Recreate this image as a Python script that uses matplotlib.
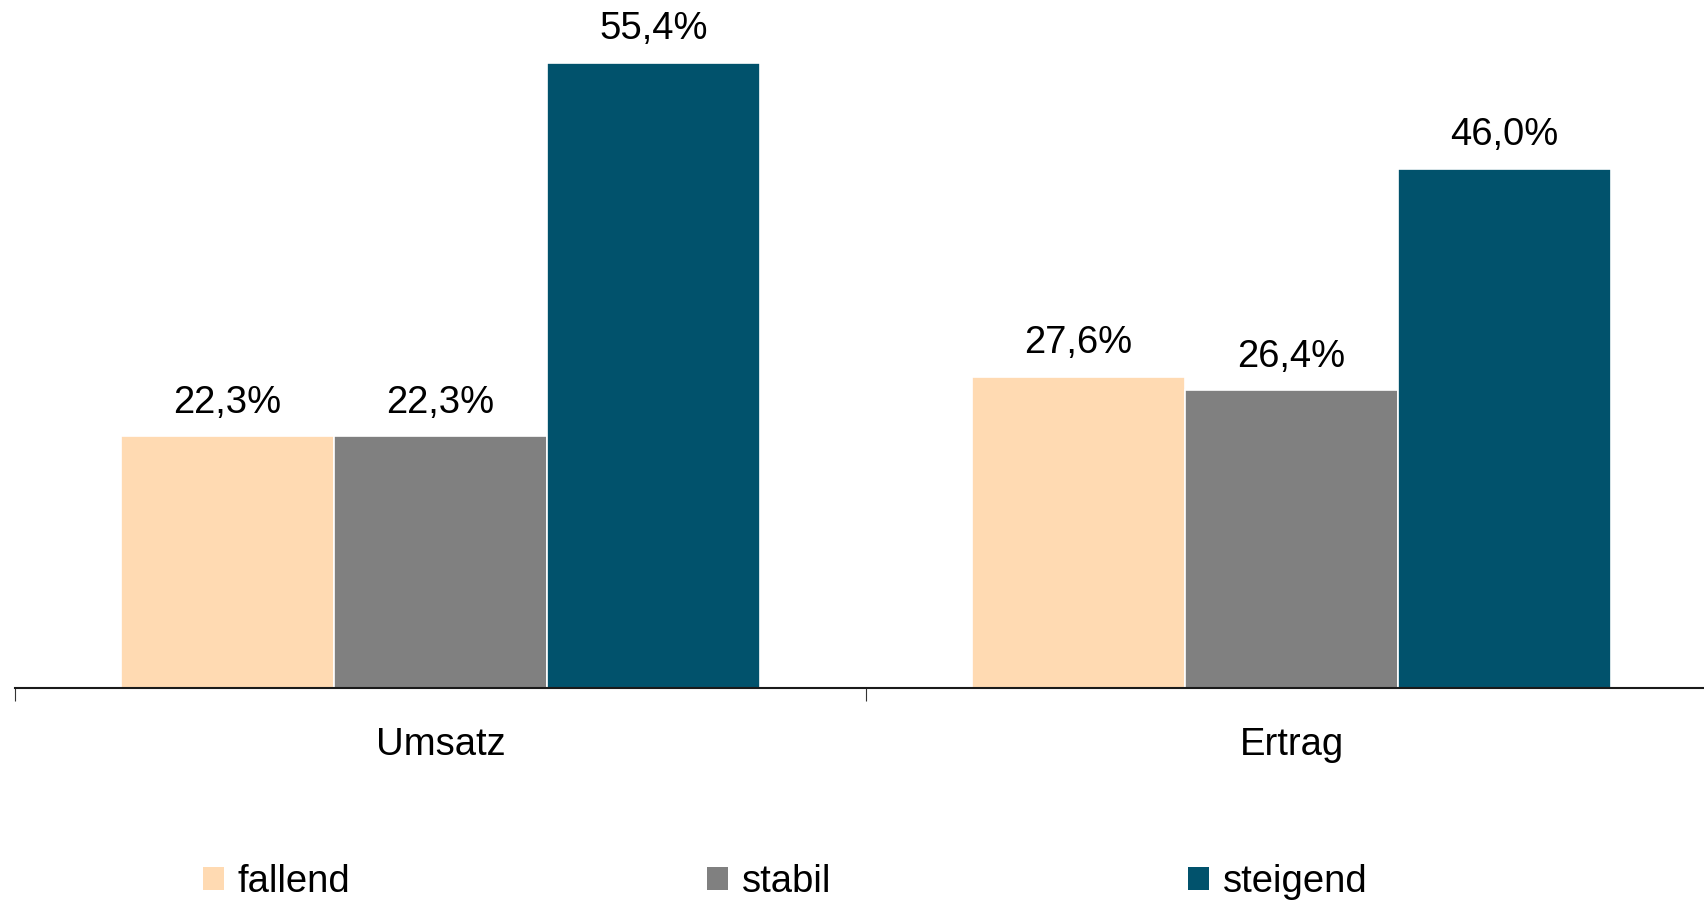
import matplotlib.pyplot as plt
import numpy as np
from matplotlib.patches import Patch

plt.rcParams['font.family'] = ['Liberation Sans', 'DejaVu Sans']

categories = ["Umsatz", "Ertrag"]
series_names = ["fallend", "stabil", "steigend"]
fallend = [22.3, 27.6]
stabil = [22.3, 26.4]
steigend = [55.4, 46.0]
colors = ["#FFDAB2", "#808080", "#01526C"]


def fmt(v):
    return ("%.1f%%" % v).replace(".", ",")


def main():
    W, H = 1704, 900
    fig = plt.figure(figsize=(W / 100, H / 100), dpi=100)
    # axes runs a bit past the right edge, as in the original
    ax = fig.add_axes([15 / W, 212 / H, 1702 / W, 688 / H])

    x = np.arange(len(categories))
    width = 0.2505
    values = [fallend, stabil, steigend]
    for i, (vals, col) in enumerate(zip(values, colors)):
        pos = x + (i - 1) * width
        bars = ax.bar(pos, vals, width=width, color=col, edgecolor="white", linewidth=1.2)
        for b, v in zip(bars, vals):
            ax.text(b.get_x() + b.get_width() / 2, v + 2.1, fmt(v),
                    ha="center", va="baseline", fontsize=27.5)

    ax.set_xlim(-0.5, 1.5)
    ax.set_ylim(0, 61)
    for s in ["left", "right", "top"]:
        ax.spines[s].set_visible(False)
    ax.spines["bottom"].set_color("#1a1a1a")
    ax.spines["bottom"].set_linewidth(1.5)
    ax.set_yticks([])

    # ticks at category boundaries, labels in the middle
    ax.set_xticks([-0.5, 0.5, 1.5])
    ax.set_xticklabels([])
    ax.tick_params(axis="x", direction="out", length=9, width=0.8, color="#333333")
    ax.set_xticks(x, minor=True)
    ax.set_xticklabels(categories, minor=True, fontsize=27.5)
    ax.tick_params(axis="x", which="minor", length=0, pad=28)

    handles = [Patch(facecolor=c, edgecolor="none") for c in colors]
    fig.legend(handles, series_names, loc="center left", bbox_to_anchor=(203 / W, 18 / H),
               ncol=3, frameon=False, fontsize=27.5, handlelength=0.55, handleheight=0.55,
               handletextpad=0.35, columnspacing=9.35, borderpad=0, borderaxespad=0)

    fig.savefig("out.png", dpi=100)


if __name__ == "__main__":
    main()
